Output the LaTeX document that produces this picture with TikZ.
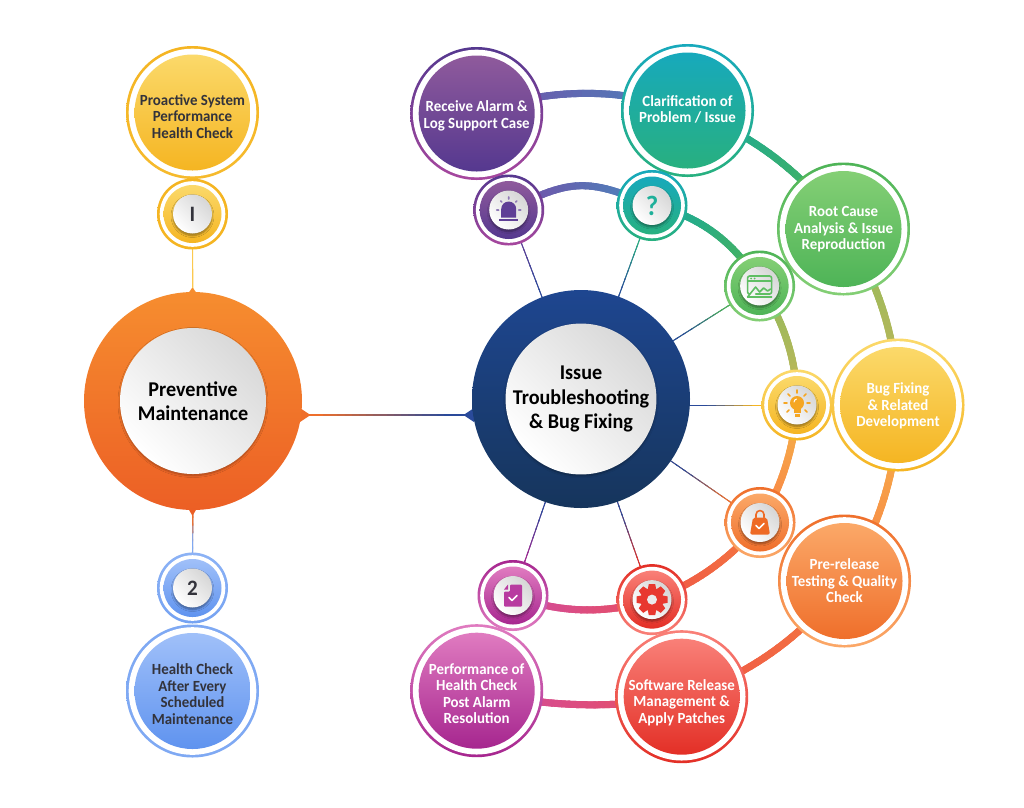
\documentclass[tikz,border=0pt]{standalone}
\usepackage{fontspec}
\setmainfont{Carlito}[FakeStretch=0.96]
\usetikzlibrary{fadings,shadows.blur}
\definecolor{fadeedge}{gray}{.5}
\definecolor{fadeedgeb}{gray}{.4}
\pgfdeclareradialshading{edgesh}{\pgfpointorigin}{color(0bp)=(black);color(41bp)=(black);color(50bp)=(fadeedge)}
\pgfdeclarefading{edgefade}{\pgfuseshading{edgesh}}
\pgfdeclareradialshading{edgeshb}{\pgfpointorigin}{color(0bp)=(black);color(45bp)=(black);color(50bp)=(fadeedgeb)}
\pgfdeclarefading{edgefadeb}{\pgfuseshading{edgeshb}}
\definecolor{purT}{HTML}{8F5A9C}\definecolor{purB}{HTML}{55388F}
\definecolor{teaT}{HTML}{17A9BC}\definecolor{teaB}{HTML}{28B07F}
\definecolor{greT}{HTML}{84CF75}\definecolor{greB}{HTML}{4EB457}
\definecolor{yelT}{HTML}{FBD96A}\definecolor{yelB}{HTML}{F5B522}
\definecolor{oraT}{HTML}{FBA868}\definecolor{oraB}{HTML}{EF6F2B}
\definecolor{redT}{HTML}{F98078}\definecolor{redB}{HTML}{E32F26}
\definecolor{pnkT}{HTML}{E07BC0}\definecolor{pnkB}{HTML}{A6268F}
\definecolor{bluT}{HTML}{A0C0F9}\definecolor{bluB}{HTML}{5F93EF}
\definecolor{bluR}{HTML}{7FA9F3}
\definecolor{mOrT}{HTML}{F68D2F}\definecolor{mOrB}{HTML}{EC5F25}
\definecolor{mBlT}{HTML}{1E4690}\definecolor{mBlB}{HTML}{16355C}
\definecolor{iconpur}{HTML}{5F3F96}
\definecolor{icontea}{HTML}{1FB09A}
\definecolor{icongre}{HTML}{5FBE63}
\definecolor{iconyel}{HTML}{F5A623}
\definecolor{iconora}{HTML}{EE6A25}
\definecolor{iconred}{HTML}{E8382F}
\definecolor{iconpnk}{HTML}{B83BA0}
\definecolor{inkdark}{HTML}{33333B}
\definecolor{mainblue}{HTML}{2A4A9A}
\definecolor{linkyel}{HTML}{FCC94F}
\definecolor{lkA}{HTML}{7350A8}\definecolor{lkB}{HTML}{4A85BC}
\definecolor{lkC}{HTML}{12A8A0}\definecolor{lkD}{HTML}{4FB455}
\definecolor{lkE}{HTML}{8FB95C}\definecolor{lkF}{HTML}{C4B858}
\definecolor{lkG}{HTML}{F5B84A}\definecolor{lkH}{HTML}{F97E45}
\definecolor{lkI}{HTML}{F57A3F}\definecolor{lkJ}{HTML}{EE5547}
\definecolor{lkK}{HTML}{EA4F5F}\definecolor{lkL}{HTML}{CF4BA0}
\tikzset{
  bubble/.style n args={6}{circle,inner sep=0pt,outer sep=0pt,minimum size=#1 pt,
    top color=#2,bottom color=#3,
    path picture={
      \fill[white] (path picture bounding box.center) circle[radius={(#1/2-2.7)*1pt}];
      \shade[top color=#5,bottom color=#6] (path picture bounding box.center) circle[radius=#4 pt];
      \fill[white,path fading=edgefade,fit fading=true] (path picture bounding box.center) circle[radius=#4 pt];
    }},
  bigb/.style n args={4}{bubble={133}{#1}{#2}{58}{#3}{#4}},
  smallb/.style n args={4}{bubble={71}{#1}{#2}{29}{#3}{#4}},
  maindisc/.style n args={2}{circle,inner sep=0pt,outer sep=0pt,minimum size=218pt,
    top color=#1,bottom color=#2,
    path picture={
      \fill[white,path fading=edgefadeb,fit fading=true] (path picture bounding box.center) circle[radius=109pt];
    }},
  capnode/.style={circle,inner sep=0pt,outer sep=0pt,minimum size=39pt,
    top color=black!16,bottom color=white,shading angle=-45,
    blur shadow={shadow blur steps=6,shadow xshift=0pt,shadow yshift=-2pt,shadow blur radius=2pt,shadow opacity=40}},
  bigcap/.style={circle,inner sep=0pt,outer sep=0pt,minimum size=146pt,
    top color=black!15,bottom color=white,shading angle=-45,align=center,text=black,
    font=\fontsize{21}{24.5}\selectfont\bfseries,
    blur shadow={shadow blur steps=6,shadow xshift=0pt,shadow yshift=-1.5pt,shadow blur radius=2pt,shadow opacity=30}},
  wlabel/.style={align=center,text=white,inner sep=0pt,font=\fontsize{15.5}{16.5}\selectfont\bfseries},
  dlabel/.style={wlabel,text=inkdark},
  iconline/.style={line width=1.6pt,line cap=round,line join=round},
}
\newcommand\glink[7]{%
  \draw[line width=#7,color=#5!50!#6] (#1.center) to[bend left=#3,looseness=#4] (#2.center);
  \foreach \i in {0,...,23}{%
    \pgfmathsetmacro\pa{\i/24}\pgfmathsetmacro\pb{(\i+1.3)/24}%
    \pgfmathtruncatemacro\pct{100-100*(\i+.5)/24}%
    \colorlet{segc}{#5!\pct!#6}%
    \path (#1.center) to[bend left=#3,looseness=#4] coordinate[pos=\pa] (sa) coordinate[pos=\pb] (sb) (#2.center);
    \draw[line width=#7,color=segc] (sa) -- (sb);
  }}
% straight link: colour #3 up to fraction #6 of the way, colour #4 from fraction #7 on
\newcommand\gspoke[7]{%
  \draw[line width=#5,color=#3!50!#4] (#1) -- (#2);
  \foreach \i in {0,...,23}{%
    \pgfmathsetmacro\pa{\i/24}\pgfmathsetmacro\pb{(\i+1.3)/24}%
    \pgfmathtruncatemacro\pct{max(0,min(100,100*(#7-(\i+.5)/24)/(#7-#6)))}%
    \colorlet{segc}{#3!\pct!#4}%
    \path (#1) -- coordinate[pos=\pa] (sa) coordinate[pos=\pb] (sb) (#2);
    \draw[line width=#5,color=segc] (sa) -- (sb);
  }}
\begin{document}
\begin{tikzpicture}[x=1pt,y=-1pt]
\useasboundingbox (0,0) rectangle (1024,807);
\fill[white] (0,0) rectangle (1024,807);
\coordinate (Pp) at (193,401);
\coordinate (Ii) at (581,399);
\coordinate (Ih) at (581,405);
\coordinate (aP) at (476.7,113.5);
\coordinate (aT) at (687.5,110.5);
\coordinate (aG) at (843.5,229);
\coordinate (aY) at (898,405);
\coordinate (aO) at (844.5,581);
\coordinate (aR) at (681.7,696.7);
\coordinate (aK) at (476.7,690.7);
\coordinate (sP) at (508.7,210);
\coordinate (sT) at (652,205.5);
\coordinate (sG) at (759.6,286);
\coordinate (sY) at (797,405);
\coordinate (sO) at (760,522.5);
\coordinate (sR) at (652,599.6);
\coordinate (sK) at (513,595.5);
\coordinate (n1) at (192.5,214);
\coordinate (n2) at (192.5,588);
\coordinate (pl) at (302,415);
\coordinate (ir) at (472,415);
% outer arcs
\glink{aP}{aT}{20}{.88}{lkA}{lkB}{7pt}
\glink{aT}{aG}{18}{.87}{lkC}{lkD}{7pt}
\glink{aG}{aY}{17}{.87}{lkE}{lkF}{7pt}
\glink{aY}{aO}{17}{.87}{lkG}{lkH}{7pt}
\glink{aO}{aR}{18.5}{.87}{lkI}{lkJ}{7pt}
\glink{aR}{aK}{12}{.87}{lkK}{lkL}{7pt}
% inner arcs
\glink{sP}{sT}{25}{1.24}{lkA}{lkB}{7pt}
\glink{sT}{sG}{26}{.89}{lkC}{lkD}{7pt}
\glink{sG}{sY}{18}{.87}{lkE}{lkF}{7pt}
\glink{sY}{sO}{14}{.87}{lkG}{lkH}{7pt}
\glink{sO}{sR}{16}{.87}{lkI}{lkJ}{7pt}
\glink{sR}{sK}{20}{.88}{lkK}{lkL}{7pt}
% thin spokes
\gspoke{sP}{Ii}{iconpur}{mainblue}{.9pt}{.2}{.42}
\gspoke{sT}{Ii}{teaB}{mainblue}{.9pt}{.2}{.42}
\gspoke{sG}{Ii}{greB}{mainblue}{.9pt}{.2}{.42}
\gspoke{sY}{Ih}{yelB}{mainblue}{.9pt}{.2}{.42}
\gspoke{sO}{Ii}{oraB}{mainblue}{.9pt}{.2}{.42}
\gspoke{sR}{Ii}{redB}{mainblue}{.9pt}{.2}{.42}
\gspoke{sK}{Ii}{pnkB}{mainblue}{.9pt}{.2}{.42}
\draw[line width=1.2pt,color=linkyel] (n1) -- (Pp);
\gspoke{n2}{Pp}{bluR}{oraB}{1.2pt}{.26}{.36}
\gspoke{pl}{ir}{oraB}{mainblue}{2.6pt}{.1}{.85}
% flares
\fill[oraB] (300,408) -- (309,414) -- (309,416) -- (300,422) -- cycle;
\fill[mainblue] (474,408) -- (465,414) -- (465,416) -- (474,422) -- cycle;
\fill[mOrT] (188.5,293) -- (192,288) -- (193,288) -- (196.5,293) -- cycle;
\fill[mOrB] (188.5,509) -- (192,515) -- (193,515) -- (196.5,509) -- cycle;
% main discs
\node[maindisc={mOrT}{mOrB}] (prev) at (Pp) {};
\node[maindisc={mBlT}{mBlB}] (issue) at (Ii) {};
\node[bigcap] (prevtxt) at (Pp) {Preventive\\Maintenance};
\node[bigcap] (issuetxt) at (Ii) {Issue\\Troubleshooting\\\& Bug Fixing};
% left column
\node[bigb={yelB}{yelB!85!yelT}{yelT}{yelB}] (proactive) at (192.5,112.5) {};
\node[dlabel] (proactivetxt) at ([yshift=-4pt]proactive.center) {Proactive System\\Performance\\Health Check};
\node[smallb={yelB}{yelB}{yelT}{yelB}] (one) at (n1) {};
\node[capnode,text=inkdark,font=\fontsize{22}{22}\selectfont\bfseries] (onecap) at (n1) {I};
\node[smallb={bluR!60!bluT}{bluR!70!bluB}{bluT}{bluB}] (two) at (n2) {};
\node[capnode,text=inkdark,font=\fontsize{22}{22}\selectfont\bfseries] (twocap) at (n2) {2};
\node[bigb={bluR}{bluR}{bluT}{bluB}] (afterevery) at (192.5,691) {};
\node[dlabel] (aftereverytxt) at ([yshift=-3pt]afterevery.center) {Health Check\\After Every\\Scheduled\\Maintenance};
% big bubbles
\node[bigb={purB}{iconpnk!60!purT}{purT}{purB}] (receive) at (aP) {};
\node[wlabel] (receivetxt) at ([yshift=-2.5pt]receive.center) {Receive Alarm \&\\Log Support Case};
\node[bigb={teaT}{teaB}{teaT}{teaB}] (clarify) at (aT) {};
\node[wlabel] (clarifytxt) at ([yshift=1pt]clarify.center) {Clarification of\\Problem / Issue};
\node[bigb={greB}{greT}{greT}{greB}] (root) at (aG) {};
\node[wlabel] (roottxt) at ([yshift=-.5pt]root.center) {Root Cause\\Analysis \& Issue\\Reproduction};
\node[bigb={yelT}{yelB}{yelT}{yelB}] (bugfix) at (aY) {};
\node[wlabel] (bugfixtxt) at ([yshift=-1pt]bugfix.center) {Bug Fixing\\\& Related\\Development};
\node[bigb={oraB}{oraT}{oraT}{oraB}] (prerelease) at (aO) {};
\node[wlabel] (prereleasetxt) at ([yshift=0pt]prerelease.center) {Pre-release\\Testing \& Quality\\Check};
\node[bigb={redT}{redB}{redT}{redB}] (software) at (aR) {};
\node[wlabel] (softwaretxt) at ([yshift=-6pt]software.center) {Software Release\\Management \&\\Apply Patches};
\node[bigb={pnkT}{pnkB}{pnkT}{pnkB}] (perf) at (aK) {};
\node[wlabel] (perftxt) at ([yshift=-3pt]perf.center) {Performance of\\Health Check\\Post Alarm\\Resolution};
% small bubbles
\node[smallb={purB}{iconpnk!60!purT}{purT}{purB}] (salarm) at (sP) {};
\node[capnode] (calarm) at (sP) {};
\node[smallb={teaT}{teaB}{teaT}{teaB}] (sques) at (sT) {};
\node[capnode,text=icontea,font=\fontsize{28}{28}\selectfont\bfseries] (cques) at (sT) {?};
\node[smallb={greB}{greT}{greT}{greB}] (schart) at (sG) {};
\node[capnode] (cchart) at (sG) {};
\node[smallb={yelT}{yelB}{yelT}{yelB}] (sbulb) at (sY) {};
\node[capnode] (cbulb) at (sY) {};
\node[smallb={oraB}{oraT}{oraT}{oraB}] (sbag) at (sO) {};
\node[capnode] (cbag) at (sO) {};
\node[smallb={redB}{redT}{redT}{redB}] (sgear) at (sR) {};
\node[capnode] (cgear) at (sR) {};
\node[smallb={pnkB}{pnkT}{pnkT}{pnkB}] (sdoc) at (sK) {};
\node[capnode] (cdoc) at (sK) {};
% icons
\begin{scope}[shift={(sP)}]
  \fill[iconpur] (-7.5,7.5) -- (-7.5,-1) arc[start angle=180,end angle=0,radius=7.5pt] -- (7.5,7.5) -- cycle;
  \fill[iconpur] (-9.5,9) rectangle (9.5,10.5);
  \draw[iconline,iconpur!70!white] (-12,0) -- (-10,0) (12,0) -- (10,0) (-8,-9) -- (-7,-8) (8,-9) -- (7,-8) (0,-13) -- (0,-11);
\end{scope}
\begin{scope}[shift={(sG)}]
  \draw[iconline,icongre,rounded corners=2pt] (-11,8) -- (-12,8) -- (-12,-10) -- (12,-10) -- (12,8) -- (-4,8);
  \draw[iconline,icongre] (-12,-5) -- (12,-5);
  \fill[icongre] (-8.5,-7.5) circle[radius=1pt] (-5,-7.5) circle[radius=1pt];
  \draw[iconline,icongre] (-12,11) -- (-4,1) -- (0,6) -- (4,2) -- (8,5) -- (11,3);
  \draw[iconline,icongre] (-12,11) -- (12,11);
\end{scope}
\begin{scope}[shift={(sY)}]
  \fill[iconyel] (0,-2) circle[radius=7pt];
  \fill[iconyel] (-3.5,3) rectangle (3.5,8);
  \fill[iconyel] (-2.5,9) rectangle (2.5,12);
  \draw[iconline,white,line width=1pt] (-3,-3) arc[start angle=180,end angle=100,radius=3pt];
  \draw[iconline,iconyel] (-10,-2) -- (-13,-2) (10,-2) -- (13,-2) (-7,-9) -- (-9,-11) (7,-9) -- (9,-11) (0,-12) -- (0,-15) (-8,5) -- (-10,7) (8,5) -- (10,7);
\end{scope}
\begin{scope}[shift={(sO)}]
  \fill[iconora,rounded corners=2pt] (-7,-5) -- (7,-5) -- (10,12) -- (-10,12) -- cycle;
  \draw[iconline,iconora] (-4,-5) -- (-4,-8) arc[start angle=180,end angle=0,radius=4pt] -- (4,-5);
  \draw[iconline,white] (-4,3) -- (-1,6) -- (4,1);
\end{scope}
\begin{scope}[shift={(sR)}]
  \foreach \a in {0,45,...,315}{
    \fill[iconred,rotate=\a] (-3.2,-15.5) -- (3.2,-15.5) -- (4.5,-9) -- (-4.5,-9) -- cycle;
  }
  \fill[iconred] (0,0) circle[radius=11.5pt];
  \fill[white!92!black] (0,0) circle[radius=5pt];
\end{scope}
\begin{scope}[shift={(sK)}]
  \fill[iconpnk,rounded corners=1pt] (-3,-11) -- (9,-11) -- (9,11) -- (-9,11) -- (-9,-4) -- (-3,-4) -- cycle;
  \fill[iconpnk] (-9,-6) -- (-5,-11) -- (-5,-6) -- cycle;
  \draw[iconline,white] (-4,2) -- (-1,5) -- (4,0);
\end{scope}
\end{tikzpicture}
\end{document}
